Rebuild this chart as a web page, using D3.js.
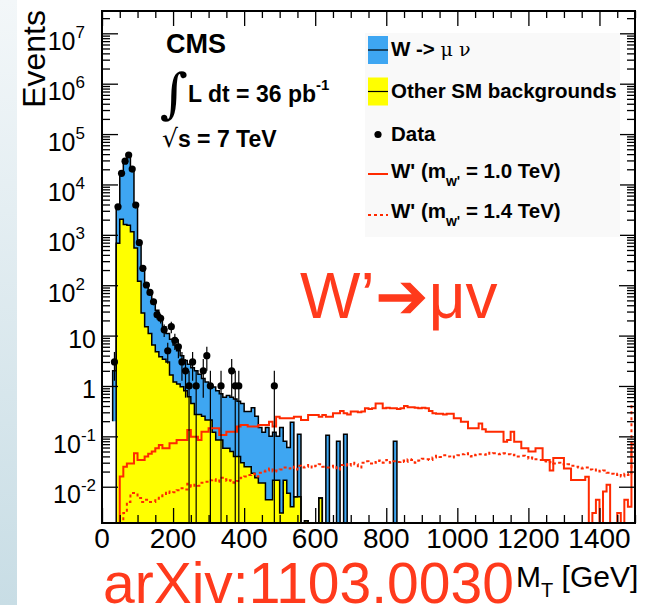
<!DOCTYPE html>
<html>
<head>
<meta charset="utf-8">
<script src="https://cdn.jsdelivr.net/npm/d3@7"></script>
<style>
  body { margin: 0; background: #fff; }
  svg { display: block; font-family: 'Liberation Sans', Arial, Helvetica, sans-serif; }
</style>
</head>
<body>
<svg id="chart"></svg>
<script>
// ---- data: 10 GeV bins ----
const binWidth = 10;
const mcStart = 30;   // first bin of the background / data histograms

// stacked total (W -> mu nu on top of other SM)
const wTotal = [
  2, 3500, 16000, 30000, 37000, 21000, 4000, 750, 230, 110,
  75, 50, 32, 22, 15, 11, 8.5, 6.5, 5, 4,
  3.2, 2.7, 2.3, 2, 1.7, 1.4, 1.2, 1.1, 0.95, 0.8,
  0.7, 0.6, 0.65, 0.6, 0.55, 0.5, 0.45, 0.31, 0.31, 0.37,
  0.25, 0.15, 0.12, 0.15, 0.1, 0.12, 0.1, 0.15, 0.08, 0.06,
  0.19, 0.0063, 0.11, 0, 0.0021, 0, 0, 0, 0.006, 0,
  0.105, 0, 0, 0.08, 0, 0.11, 0, 0, 0, 0,
  0, 0, 0, 0, 0, 0, 0, 0, 0, 0.08
];
// other SM backgrounds (first bin is the floor of the W band, no yellow there)
const otherSM = [
  0.2, 680, 2050, 1600, 1550, 1150, 550, 120, 28, 15,
  11, 6.5, 4.8, 3.8, 3.4, 3.0, 1.65, 1.2, 1.1, 0.97,
  0.8, 0.61, 0.45, 0.27, 0.27, 0.25, 0.21, 0.21, 0.12, 0.085,
  0.085, 0.058, 0.058, 0.05, 0.04, 0.04, 0.03, 0.025, 0.025, 0.0186,
  0.015, 0.0118, 0.0118, 0.0055, 0.0055, 0.0135, 0.0135, 0.003, 0.0135, 0.0074,
  0.004, 0.0063, 0.0063, 0, 0.0021, 0, 0, 0, 0.006
];
// observed events
const dataCounts = [
  3, 3600, 16600, 29000, 38400, 20200, 3900, 700, 216, 101,
  72, 47, 26, 22, 13, 5, 15, 8, 6, 3,
  2, 1, 3, 1, 0, 2, 4, 1, 0, 0,
  1, 0, 0, 2, 1, 1, 0, 0, 0, 0,
  0, 0, 0, 0, 0, 1
];

const wpStart = 0;
// W' (m = 1.0 TeV)
const wprime10 = [
  0, 0, 0, 0, 0, 0.016, 0.025, 0.029, 0.029, 0.046,
  0.034, 0.034, 0.04, 0.045, 0.05, 0.058, 0.067, 0.058, 0.058, 0.073,
  0.073, 0.085, 0.085, 0.085, 0.134, 0.098, 0.098, 0.085, 0.124, 0.124,
  0.144, 0.144, 0.144, 0.106, 0.106, 0.124, 0.124, 0.124, 0.156, 0.168,
  0.168, 0.156, 0.156, 0.156, 0.168, 0.168, 0.168, 0.195, 0.156, 0.245,
  0.228, 0.228, 0.228, 0.228, 0.245, 0.245, 0.21, 0.21, 0.265, 0.265,
  0.265, 0.245, 0.265, 0.245, 0.245, 0.286, 0.286, 0.32, 0.286, 0.27,
  0.31, 0.31, 0.3, 0.31, 0.36, 0.35, 0.36, 0.45, 0.45, 0.36,
  0.37, 0.36, 0.36, 0.35, 0.36, 0.40, 0.38, 0.38, 0.37, 0.36,
  0.37, 0.36, 0.32, 0.286, 0.28, 0.28, 0.27, 0.28, 0.28, 0.228,
  0.23, 0.195, 0.195, 0.144, 0.144, 0.144, 0.18, 0.138, 0.124, 0.124,
  0.124, 0.124, 0.124, 0.078, 0.085, 0.124, 0.078, 0.078, 0.058, 0.058,
  0.05, 0.05, 0.058, 0.058, 0.034, 0.034, 0.021, 0.037, 0.037, 0.037,
  0.023, 0.023, 0.0136, 0.0136, 0.0136, 0.0136, 0.0158, 0, 0.003, 0.0055,
  0, 0.008, 0.011, 0, 0, 0.003, 0, 0.0055, 0.004, 0.07
];
// W' (m = 1.4 TeV)
const wprime14 = [
  0, 0, 0, 0, 0, 0, 0.003, 0.005, 0.0075, 0.007,
  0.006, 0.005, 0.0055, 0.005, 0.005, 0.0058, 0.0065, 0.0072, 0.008, 0.0075,
  0.0078, 0.0085, 0.0093, 0.0088, 0.0115, 0.01, 0.011, 0.0105, 0.012, 0.0125,
  0.0135, 0.014, 0.0125, 0.015, 0.014, 0.013, 0.0135, 0.012, 0.013, 0.015,
  0.016, 0.017, 0.018, 0.016, 0.019, 0.02, 0.021, 0.023, 0.02, 0.021,
  0.022, 0.024, 0.023, 0.025, 0.022, 0.026, 0.024, 0.025, 0.027, 0.024,
  0.026, 0.028, 0.025, 0.024, 0.024, 0.026, 0.022, 0.027, 0.028, 0.026,
  0.03, 0.028, 0.024, 0.03, 0.032, 0.029, 0.031, 0.03, 0.033, 0.03,
  0.034, 0.03, 0.032, 0.031, 0.033, 0.031, 0.035, 0.034, 0.03, 0.033,
  0.036, 0.035, 0.034, 0.038, 0.041, 0.039, 0.042, 0.04, 0.038, 0.04,
  0.042, 0.044, 0.046, 0.04, 0.043, 0.042, 0.044, 0.043, 0.047, 0.045,
  0.046, 0.044, 0.045, 0.046, 0.044, 0.042, 0.043, 0.04, 0.041, 0.039,
  0.036, 0.038, 0.035, 0.034, 0.032, 0.03, 0.031, 0.029, 0.03, 0.028,
  0.027, 0.028, 0.026, 0.025, 0.024, 0.023, 0.024, 0.022, 0.021, 0.022,
  0.02, 0.021, 0.019, 0.018, 0.017, 0.018, 0.016, 0.018, 0.017, 0.42
];

const xMajor = [0, 200, 400, 600, 800, 1000, 1200, 1400];
const yDecades = [-2, -1, 0, 1, 2, 3, 4, 5, 6, 7];

// ---- layout ----
const width = 663, height = 605;
const frame = {left: 102, right: 635, top: 11, bottom: 523};
const blue = '#3ea6f2', yellow = '#ffff00', red = '#ff2a00', textRed = '#ff3a1c';

const svg = d3.select('#chart')
    .attr('width', width)
    .attr('height', height);

// slide background strip on the left
const grad = svg.append('defs').append('linearGradient')
    .attr('id', 'slideBg')
    .attr('x1', 0).attr('y1', 0).attr('x2', 0).attr('y2', 1);
grad.append('stop').attr('offset', '0%').attr('stop-color', '#f3f7f9');
grad.append('stop').attr('offset', '100%').attr('stop-color', '#c8dde5');
svg.append('rect')
    .attr('x', 0).attr('y', 0)
    .attr('width', 17).attr('height', height)
    .attr('fill', 'url(#slideBg)');

svg.select('defs').append('clipPath')
    .attr('id', 'plotClip')
  .append('rect')
    .attr('x', frame.left).attr('y', frame.top)
    .attr('width', frame.right - frame.left)
    .attr('height', frame.bottom - frame.top);

// scales
const x = d3.scaleLinear()
    .domain([0, 1500])
    .range([frame.left, frame.right]);

const y = d3.scaleLog()
    .domain([Math.pow(10, -2.72), Math.pow(10, 7.443)])
    .range([frame.bottom, frame.top])
    .clamp(true);

const yPos = v => v > 0 ? y(v) : frame.bottom;

// turn bin contents into step points (low edge of every bin + closing edge)
function stepPoints(values, start, floor) {
  const pts = values.map((v, i) => ({x: start + i * binWidth, v: v, f: floor ? floor[i] : 0}));
  const last = pts[pts.length - 1];
  pts.push({x: start + values.length * binWidth, v: last.v, f: last.f});
  return pts;
}

const plot = svg.append('g')
    .attr('clip-path', 'url(#plotClip)');

// W band: between other SM and the stacked total
const totalPts = stepPoints(wTotal, mcStart, wTotal.map((d, i) => otherSM[i] || 0));
plot.append('path')
    .datum(totalPts)
    .attr('fill', blue)
    .attr('d', d3.area()
        .curve(d3.curveStepAfter)
        .x(d => x(d.x))
        .y0(d => yPos(Math.min(d.f, d.v)))
        .y1(d => yPos(d.v)));

// other SM: drawn from 40 GeV
const otherPts = stepPoints(otherSM.slice(1), mcStart + binWidth);
plot.append('path')
    .datum(otherPts)
    .attr('fill', yellow)
    .attr('d', d3.area()
        .curve(d3.curveStepAfter)
        .x(d => x(d.x))
        .y0(frame.bottom)
        .y1(d => yPos(d.v)));

const stepLine = d3.line()
    .curve(d3.curveStepAfter)
    .x(d => x(d.x))
    .y(d => yPos(d.v));

// outlines
const totalOutline = [{x: mcStart, v: otherSM[0]}].concat(totalPts, [{x: mcStart + wTotal.length * binWidth, v: 0}]);
plot.append('path')
    .datum(totalOutline)
    .attr('fill', 'none')
    .attr('stroke', '#000')
    .attr('stroke-width', 1.5)
    .attr('d', stepLine);

const otherOutline = [{x: mcStart + binWidth, v: 0}].concat(otherPts, [{x: mcStart + otherSM.length * binWidth, v: 0}]);
plot.append('path')
    .datum(otherOutline)
    .attr('fill', 'none')
    .attr('stroke', '#000')
    .attr('stroke-width', 1.5)
    .attr('d', stepLine);

// W' signals
plot.append('path')
    .datum(stepPoints(wprime10, wpStart))
    .attr('fill', 'none')
    .attr('stroke', red)
    .attr('stroke-width', 2)
    .attr('d', stepLine);

plot.append('path')
    .datum(stepPoints(wprime14, wpStart))
    .attr('fill', 'none')
    .attr('stroke', red)
    .attr('stroke-width', 2)
    .attr('stroke-dasharray', '3,3')
    .attr('d', stepLine);

// data points with sqrt(N) error bars
const dataPts = dataCounts
    .map((n, i) => ({x: mcStart + (i + 0.5) * binWidth, n: n}))
    .filter(d => d.n > 0);

plot.selectAll('.err')
    .data(dataPts)
  .join('line')
    .attr('class', 'err')
    .attr('x1', d => x(d.x))
    .attr('x2', d => x(d.x))
    .attr('y1', d => yPos(d.n - Math.sqrt(d.n)))
    .attr('y2', d => yPos(d.n + Math.sqrt(d.n)))
    .attr('stroke', '#000')
    .attr('stroke-width', 1.2);

plot.selectAll('.point')
    .data(dataPts)
  .join('circle')
    .attr('class', 'point')
    .attr('cx', d => x(d.x))
    .attr('cy', d => yPos(d.n))
    .attr('r', 3.6)
    .attr('fill', '#000');

// ---- axes (ROOT style: ticks inside, on all four sides) ----
const xTickVals = d3.range(0, 1501, 50);
const isMajorX = d => d % 200 === 0;

const yTickVals = [];
yDecades.forEach(e => {
  for (let k = 1; k < 10; k++) yTickVals.push(k * Math.pow(10, e));
});
const isMajorY = d => Math.abs(Math.log10(d) - Math.round(Math.log10(d))) < 1e-6;
const yTicksIn = yTickVals.filter(d => d >= y.domain()[0] && d <= y.domain()[1]);

function styleTicks(g, sign, attr, major, bigLen, smallLen) {
  g.select('.domain').remove();
  g.selectAll('.tick line')
      .attr(attr, d => sign * (major(d) ? bigLen : smallLen))
      .attr('stroke-width', 1.3);
}

svg.append('g')
    .attr('transform', `translate(0,${frame.bottom})`)
    .call(d3.axisBottom(x).tickValues(xTickVals).tickSize(0).tickFormat(''))
    .call(g => styleTicks(g, -1, 'y2', isMajorX, 15, 8));

svg.append('g')
    .attr('transform', `translate(0,${frame.top})`)
    .call(d3.axisTop(x).tickValues(xTickVals).tickSize(0).tickFormat(''))
    .call(g => styleTicks(g, 1, 'y2', isMajorX, 15, 7));

svg.append('g')
    .attr('transform', `translate(${frame.left},0)`)
    .call(d3.axisLeft(y).tickValues(yTicksIn).tickSize(0).tickFormat(''))
    .call(g => styleTicks(g, 1, 'x2', isMajorY, 16, 8));

svg.append('g')
    .attr('transform', `translate(${frame.right},0)`)
    .call(d3.axisRight(y).tickValues(yTicksIn).tickSize(0).tickFormat(''))
    .call(g => styleTicks(g, -1, 'x2', isMajorY, 16, 8));

// frame
svg.append('rect')
    .attr('x', frame.left)
    .attr('y', frame.top)
    .attr('width', frame.right - frame.left)
    .attr('height', frame.bottom - frame.top)
    .attr('fill', 'none')
    .attr('stroke', '#000')
    .attr('stroke-width', 2);

// x tick labels
svg.selectAll('.xlabel')
    .data(xMajor)
  .join('text')
    .attr('class', 'xlabel')
    .attr('x', d => x(d))
    .attr('y', 548)
    .attr('text-anchor', 'middle')
    .attr('font-size', 28)
    .text(d => d);

// y tick labels with superscripts
const yLabels = svg.selectAll('.ylabel')
    .data(yDecades)
  .join('text')
    .attr('class', 'ylabel')
    .attr('text-anchor', 'end')
    .attr('font-size', 25)
    .attr('x', d => d > 1 ? 85 : 96)
    .attr('y', d => y(Math.pow(10, d)) + (d === 0 || d === 1 ? 12.5 : 16.5));

yLabels.each(function(d) {
  const t = d3.select(this);
  if (d === 0) { t.text('1'); return; }
  if (d === 1) { t.text('10'); return; }
  t.append('tspan').text('10');
  t.append('tspan')
      .attr('font-size', 17)
      .attr('dy', -12)
      .text(d);
});

// axis titles
svg.append('text')
    .attr('transform', 'translate(45,10) rotate(-90)')
    .attr('text-anchor', 'end')
    .attr('font-size', 32)
    .text('Events');

const xTitle = svg.append('text')
    .attr('x', 516)
    .attr('y', 587)
    .attr('font-size', 30);
xTitle.append('tspan').text('M');
xTitle.append('tspan').attr('font-size', 20).attr('dy', 10).text('T');
xTitle.append('tspan').attr('dy', -10).text(' [GeV]');

// ---- annotations ----
svg.append('text')
    .attr('x', 166).attr('y', 53)
    .attr('font-size', 27)
    .attr('font-weight', 'bold')
    .text('CMS');

svg.append('text')
    .attr('x', 160).attr('y', 112)
    .attr('font-size', 54)
    .attr('font-family', 'DejaVu Serif, serif')
    .attr('font-style', 'italic')
    .text('\u222B');

const lumi = svg.append('text')
    .attr('x', 188).attr('y', 102)
    .attr('font-size', 23)
    .attr('font-weight', 'bold');
lumi.append('tspan').text('L dt = 36 pb');
lumi.append('tspan').attr('font-size', 15).attr('dy', -12).text('-1');

const energy = svg.append('text')
    .attr('x', 162).attr('y', 147)
    .attr('font-size', 23);
energy.append('tspan').attr('font-family', 'DejaVu Sans, sans-serif').attr('font-size', 25).text('\u221A');
energy.append('tspan').attr('font-weight', 'bold').text('s = 7 TeV');

svg.append('text')
    .attr('x', 300).attr('y', 318)
    .attr('font-size', 64)
    .attr('fill', textRed)
    .text('W\u2019\u2794\u03BCv');

svg.append('text')
    .attr('x', 103).attr('y', 603)
    .attr('font-size', 57)
    .attr('fill', textRed)
    .text('arXiv:1103.0030');

// ---- legend ----
const legend = svg.append('g');
legend.append('rect')
    .attr('x', 365).attr('y', 33)
    .attr('width', 255).attr('height', 204)
    .attr('fill', '#f9f9f9');

const legBox = (y0, fill) => {
  legend.append('rect')
      .attr('x', 368).attr('y', y0)
      .attr('width', 20).attr('height', 28)
      .attr('fill', fill);
  legend.append('line')
      .attr('x1', 368).attr('x2', 388)
      .attr('y1', y0 + 14).attr('y2', y0 + 14)
      .attr('stroke', '#000').attr('stroke-width', 1.2);
};
legBox(36, blue);
legBox(77.5, yellow);
legend.append('circle')
    .attr('cx', 378).attr('cy', 134.5).attr('r', 3.6).attr('fill', '#000');
legend.append('line')
    .attr('x1', 368).attr('x2', 388).attr('y1', 174).attr('y2', 174)
    .attr('stroke', red).attr('stroke-width', 2);
legend.append('line')
    .attr('x1', 368).attr('x2', 388).attr('y1', 215).attr('y2', 215)
    .attr('stroke', red).attr('stroke-width', 2).attr('stroke-dasharray', '3,3');

const legText = (yb) => legend.append('text')
    .attr('x', 391).attr('y', yb)
    .attr('font-size', 20.5)
    .attr('font-weight', 'bold');

const t1 = legText(55.5);
t1.append('tspan').text('W -> ');
t1.append('tspan').attr('font-weight', 'normal').attr('font-family', 'DejaVu Serif, serif').attr('font-size', 19).text('\u03BC \u03BD');

legText(98).text('Other SM backgrounds');
legText(140.5).text('Data');

[['1.0', 178], ['1.4', 217.5]].forEach(([m, yb]) => {
  const t = legText(yb);
  t.append('tspan').text("W' (m");
  t.append('tspan').attr('font-size', 14).attr('dy', 8).text("w'");
  t.append('tspan').attr('dy', -8).text(` = ${m} TeV)`);
});
</script>
</body>
</html>
